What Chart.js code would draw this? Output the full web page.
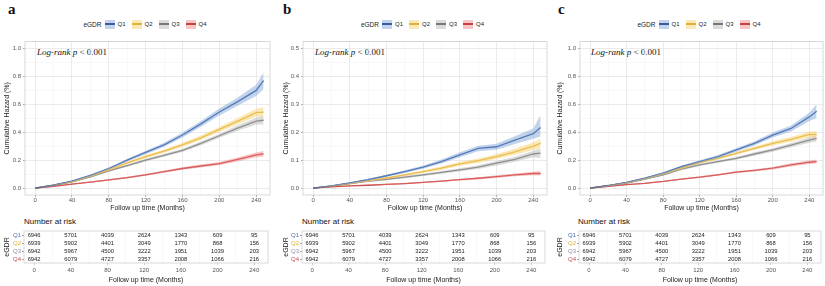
<!DOCTYPE html>
<html><head><meta charset="utf-8">
<script src="https://cdn.jsdelivr.net/npm/chart.js@4.4.1/dist/chart.umd.min.js"></script>
<style>
body{margin:0;background:#fff;width:825px;height:286px;overflow:hidden;position:relative;font-family:"Liberation Sans",Arial,sans-serif;}
canvas{position:absolute;}
.lab{position:absolute;font-family:"Liberation Serif","Times New Roman",serif;font-weight:bold;font-size:15px;line-height:15px;color:#111;}
.leg{position:absolute;top:19px;height:10px;display:flex;align-items:center;justify-content:center;font-size:6px;color:#222;white-space:nowrap;}
.leg .lt{font-size:6.5px;margin-right:2px;}
.leg .key{display:inline-block;width:10px;height:9px;margin-left:1px;}
.leg .key i{display:block;height:1.4px;margin-top:3.8px;}
.leg .ln{margin-left:3px;margin-right:5px;}
.lr{position:absolute;top:47px;font-family:"Liberation Serif","Times New Roman",serif;font-size:9px;line-height:11px;color:#111;white-space:nowrap;}
.nar{position:absolute;top:217px;font-size:8px;line-height:10px;color:#111;white-space:nowrap;}
</style></head>
<body>
<script>
// ---------- data ----------
const seriesNames = ['Q1','Q2','Q3','Q4'];
const T = [0,20,40,60,80,100,120,140,160,180,200,220,240,248];

// Panel a
const aQ1 = [0,0.02,0.05,0.09,0.14,0.20,0.255,0.31,0.38,0.46,0.545,0.62,0.70,0.77];
const aQ1lo = [0,0.018,0.046,0.084,0.132,0.19,0.243,0.296,0.362,0.44,0.52,0.59,0.66,0.71];
const aQ1hi = [0,0.022,0.054,0.096,0.148,0.21,0.267,0.324,0.398,0.48,0.57,0.65,0.74,0.83];
const aQ2 = [0,0.02,0.045,0.085,0.13,0.18,0.225,0.265,0.31,0.36,0.42,0.48,0.54,0.545];
const aQ2lo = [0,0.018,0.041,0.079,0.122,0.171,0.214,0.253,0.296,0.344,0.402,0.458,0.512,0.51];
const aQ2hi = [0,0.022,0.049,0.091,0.138,0.189,0.236,0.277,0.324,0.376,0.438,0.502,0.568,0.58];
const aQ3 = [0,0.02,0.045,0.08,0.123,0.16,0.20,0.235,0.27,0.32,0.375,0.43,0.48,0.486];
const aQ3lo = [0,0.018,0.041,0.075,0.116,0.152,0.19,0.224,0.258,0.306,0.36,0.41,0.456,0.455];
const aQ3hi = [0,0.022,0.049,0.085,0.13,0.168,0.21,0.246,0.282,0.334,0.39,0.45,0.504,0.517];
const aQ4 = [0,0.012,0.028,0.042,0.058,0.075,0.095,0.118,0.14,0.158,0.175,0.205,0.237,0.245];
const aQ4lo = [0,0.01,0.025,0.038,0.053,0.069,0.088,0.11,0.131,0.148,0.164,0.191,0.22,0.225];
const aQ4hi = [0,0.014,0.031,0.046,0.063,0.081,0.102,0.126,0.149,0.168,0.186,0.219,0.254,0.265];

// Panel b
const bQ1 = [0,0.008,0.018,0.03,0.044,0.059,0.075,0.095,0.119,0.142,0.148,0.172,0.195,0.217];
const bQ1lo = [0,0.007,0.016,0.027,0.04,0.054,0.069,0.088,0.11,0.132,0.137,0.158,0.177,0.185];
const bQ1hi = [0,0.009,0.02,0.033,0.048,0.064,0.081,0.102,0.128,0.152,0.159,0.186,0.213,0.262];
const bQ2 = [0,0.007,0.016,0.026,0.036,0.047,0.059,0.071,0.087,0.098,0.113,0.13,0.15,0.16];
const bQ2lo = [0,0.006,0.014,0.023,0.033,0.043,0.054,0.065,0.08,0.09,0.104,0.119,0.136,0.143];
const bQ2hi = [0,0.008,0.018,0.029,0.039,0.051,0.064,0.077,0.094,0.106,0.122,0.141,0.164,0.177];
const bQ3 = [0,0.007,0.016,0.025,0.031,0.039,0.047,0.056,0.065,0.075,0.089,0.103,0.122,0.125];
const bQ3lo = [0,0.006,0.014,0.022,0.028,0.035,0.043,0.051,0.059,0.068,0.081,0.094,0.11,0.108];
const bQ3hi = [0,0.008,0.018,0.028,0.034,0.043,0.051,0.061,0.071,0.082,0.097,0.112,0.134,0.142];
const bQ4 = [0,0.004,0.008,0.01,0.013,0.016,0.02,0.025,0.03,0.035,0.041,0.047,0.052,0.052];
const bQ4lo = [0,0.003,0.007,0.009,0.011,0.014,0.018,0.022,0.027,0.031,0.036,0.042,0.046,0.045];
const bQ4hi = [0,0.005,0.009,0.011,0.015,0.018,0.022,0.028,0.033,0.039,0.046,0.052,0.058,0.06];

// Panel c
const cQ1 = [0,0.018,0.04,0.071,0.107,0.154,0.19,0.225,0.273,0.32,0.38,0.427,0.51,0.55];
const cQ1lo = [0,0.016,0.037,0.067,0.101,0.146,0.181,0.214,0.26,0.305,0.362,0.405,0.48,0.5];
const cQ1hi = [0,0.02,0.043,0.075,0.113,0.162,0.199,0.236,0.286,0.335,0.398,0.449,0.54,0.6];
const cQ2 = [0,0.017,0.038,0.068,0.102,0.142,0.183,0.213,0.249,0.285,0.32,0.349,0.384,0.384];
const cQ2lo = [0,0.015,0.035,0.064,0.096,0.135,0.175,0.204,0.238,0.272,0.305,0.332,0.362,0.36];
const cQ2hi = [0,0.019,0.041,0.072,0.108,0.149,0.191,0.222,0.26,0.298,0.335,0.366,0.406,0.408];
const cQ3 = [0,0.017,0.036,0.064,0.095,0.135,0.166,0.19,0.213,0.244,0.273,0.308,0.344,0.356];
const cQ3lo = [0,0.015,0.033,0.06,0.09,0.128,0.158,0.181,0.203,0.232,0.26,0.293,0.325,0.333];
const cQ3hi = [0,0.019,0.039,0.068,0.1,0.142,0.174,0.199,0.223,0.256,0.286,0.323,0.363,0.379];
const cQ4 = [0,0.012,0.024,0.034,0.047,0.064,0.078,0.095,0.114,0.126,0.142,0.166,0.185,0.19];
const cQ4lo = [0,0.01,0.021,0.031,0.043,0.059,0.072,0.089,0.106,0.118,0.133,0.155,0.172,0.175];
const cQ4hi = [0,0.014,0.027,0.037,0.051,0.069,0.084,0.101,0.122,0.134,0.151,0.177,0.198,0.205];

// Number at risk
const riskTimes = [0,40,80,120,160,200,240];
const riskQ1 = [6946,5701,4039,2624,1343,609,95];
const riskQ2 = [6939,5902,4401,3049,1770,868,156];
const riskQ3 = [6942,5967,4500,3222,1951,1039,203];
const riskQ4 = [6942,6079,4727,3357,2008,1066,216];

// tick labels
const xTicks = [0,20,40,60,80,100,120,140,160,180,200,220,240];
const yTicksAC = [0,0.1,0.2,0.3,0.4,0.5,0.6,0.7,0.8,0.9,1.0];
const yTicksB = [0,0.05,0.1,0.15,0.2,0.25,0.3,0.35,0.4,0.45,0.5];

// ---------- styles ----------
const lineCol = ['#3A5BA0','#E2B136','#777777','#C8413F'];
const bandCol = ['rgba(120,160,212,0.45)','rgba(246,204,100,0.45)','rgba(175,175,175,0.45)','rgba(236,128,128,0.45)'];
const tabCol = ['#4F6FB0','#E2B136','#8C8CA6','#C0504D'];

Chart.defaults.font.family = '"Liberation Sans", Arial, sans-serif';
Chart.defaults.animation = false;

const panels = [
  {x:0, w:278, axisW:25, padR:8, ymin:-0.05, ymax:1.05, yt:yTicksAC, major:0.2, letter:'a', letterX:8, lrX:37, narX:24,
   s:[[aQ1,aQ1lo,aQ1hi],[aQ2,aQ2lo,aQ2hi],[aQ3,aQ3lo,aQ3hi],[aQ4,aQ4lo,aQ4hi]], titlePad:3},
  {x:280, w:275, axisW:23, padR:8, ymin:-0.025, ymax:0.525, yt:yTicksB, major:0.1, letter:'b', letterX:283, lrX:315, narX:302,
   s:[[bQ1,bQ1lo,bQ1hi],[bQ2,bQ2lo,bQ2hi],[bQ3,bQ3lo,bQ3hi],[bQ4,bQ4lo,bQ4hi]], titlePad:1.5},
  {x:555, w:270, axisW:25, padR:2, ymin:-0.05, ymax:1.05, yt:yTicksAC, major:0.2, letter:'c', letterX:558, lrX:591, narX:578,
   s:[[cQ1,cQ1lo,cQ1hi],[cQ2,cQ2lo,cQ2hi],[cQ3,cQ3lo,cQ3hi],[cQ4,cQ4lo,cQ4hi]], titlePad:1}
];

const borderPlugin = {
  id:'panelBorder',
  afterDraw(chart){
    const a = chart.chartArea, c = chart.ctx;
    c.save(); c.strokeStyle='#cfcfcf'; c.lineWidth=0.8;
    c.strokeRect(a.left, a.top, a.right-a.left, a.bottom-a.top);
    c.restore();
  }
};
const riskText = {
  id:'riskText',
  afterDatasetsDraw(chart){
    const c = chart.ctx; c.save();
    c.font = '5.8px "Liberation Sans", Arial, sans-serif';
    c.fillStyle = '#222'; c.textAlign='center'; c.textBaseline='middle';
    chart.data.datasets.forEach((ds,di)=>{
      chart.getDatasetMeta(di).data.forEach((pt,i)=>{ c.fillText(String(ds.counts[i]), pt.x, pt.y); });
    });
    c.restore();
  }
};

function isMajor(v, step){ const r = v/step; return Math.abs(r-Math.round(r))<1e-6; }
const TICK_FONT = {size:6};
const TITLE_FONT = {size:7};

function mkCanvas(left, top, w, h){
  const cv = document.createElement('canvas');
  cv.width = w; cv.height = h; cv.style.left = left+'px'; cv.style.top = top+'px';
  cv.style.width = w+'px'; cv.style.height = h+'px';
  document.body.appendChild(cv); return cv;
}
function addDiv(cls, left, top, html){
  const d = document.createElement('div'); d.className = cls; d.style.left = left+'px';
  if (top!==null) d.style.top = top+'px';
  d.innerHTML = html; document.body.appendChild(d); return d;
}

panels.forEach(p=>{
  // panel letter
  addDiv('lab', p.letterX, 2, p.letter);
  // legend
  const plotL = p.x + p.axisW, plotR = p.x + p.w - p.padR;
  const lg = addDiv('leg', plotL, null,
    '<span class="lt">eGDR</span>' + seriesNames.map((n,i)=>
      `<span class="key" style="background:${bandCol[i]}"><i style="background:${lineCol[i]}"></i></span><span class="ln">${n}</span>`).join(''));
  lg.style.width = (plotR-plotL)+'px';
  // log-rank
  addDiv('lr', p.lrX, null, '<i>Log-rank p</i> &lt; 0.001');
  // number at risk
  addDiv('nar', p.narX, null, 'Number at risk');

  // ---- KM plot ----
  const datasets = [];
  p.s.forEach((trip,i)=>{
    datasets.push({label:seriesNames[i]+' lower', data:T.map((t,k)=>({x:t,y:trip[1][k]})), borderWidth:0, pointRadius:0, fill:false, borderColor:'rgba(0,0,0,0)'});
    datasets.push({label:seriesNames[i]+' upper', data:T.map((t,k)=>({x:t,y:trip[2][k]})), borderWidth:0, pointRadius:0, fill:'-1', backgroundColor:bandCol[i], borderColor:'rgba(0,0,0,0)'});
  });
  p.s.forEach((trip,i)=>{
    datasets.push({label:seriesNames[i], data:T.map((t,k)=>({x:t,y:trip[0][k]})), borderWidth:1.3, pointRadius:0, fill:false, borderColor:lineCol[i], tension:0});
  });
  const cv = mkCanvas(p.x, 36, p.w, 176);
  new Chart(cv, {
    type:'line',
    data:{datasets},
    plugins:[borderPlugin],
    options:{
      responsive:false, devicePixelRatio:1,
      layout:{padding:{top:4,right:p.padR,bottom:0,left:0}},
      plugins:{legend:{display:false}, tooltip:{enabled:false}},
      scales:{
        x:{type:'linear', min:-11, max:255,
          afterBuildTicks(s){ s.ticks = xTicks.map(v=>({value:v})); },
          afterFit(s){ s.height = 17; },
          border:{display:false},
          grid:{color:c=>isMajor(c.tick.value,40)?'#e6e6e6':'#f1f1f1', lineWidth:c=>isMajor(c.tick.value,40)?0.8:0.5,
                tickColor:c=>isMajor(c.tick.value,40)?'#999':'rgba(0,0,0,0)', tickLength:2},
          ticks:{autoSkip:false, maxRotation:0, padding:0, font:TICK_FONT, color:'#555',
                 callback:v=>isMajor(v,40)?String(v):''},
          title:{display:true, text:'Follow up time (Months)', font:TITLE_FONT, color:'#222', padding:{top:0,bottom:0}}
        },
        y:{type:'linear', min:p.ymin, max:p.ymax,
          afterBuildTicks(s){ s.ticks = p.yt.map(v=>({value:v})); },
          afterFit(s){ s.width = p.axisW; },
          border:{display:false},
          grid:{color:c=>isMajor(c.tick.value,p.major)?'#e6e6e6':'#f1f1f1', lineWidth:c=>isMajor(c.tick.value,p.major)?0.8:0.5,
                tickColor:c=>isMajor(c.tick.value,p.major)?'#999':'rgba(0,0,0,0)', tickLength:2},
          ticks:{autoSkip:false, padding:2, font:TICK_FONT, color:'#555',
                 callback:v=>isMajor(v,p.major)?v.toFixed(1):''},
          title:{display:true, text:'Cumulative Hazard (%)', font:TITLE_FONT, color:'#222', padding:{top:p.titlePad,bottom:0}}
        }
      }
    }
  });

  // ---- risk table ----
  const risks = [riskQ1,riskQ2,riskQ3,riskQ4];
  const tds = risks.map((r,i)=>({label:seriesNames[i], counts:r, data:riskTimes.map(t=>({x:t,y:i+1})), pointRadius:0, showLine:false}));
  const tv = mkCanvas(p.x, 216, p.w, 70);
  new Chart(tv, {
    type:'scatter',
    data:{datasets:tds},
    plugins:[borderPlugin, riskText],
    options:{
      responsive:false, devicePixelRatio:1,
      layout:{padding:{top:15,right:p.padR+2,bottom:2,left:0}},
      plugins:{legend:{display:false}, tooltip:{enabled:false}},
      scales:{
        x:{type:'linear', min:-11, max:255,
          afterBuildTicks(s){ s.ticks = xTicks.map(v=>({value:v})); },
          afterFit(s){ s.height = 21; },
          border:{display:false},
          grid:{color:'#f1f1f1', lineWidth:0.5, tickColor:c=>isMajor(c.tick.value,40)?'#999':'rgba(0,0,0,0)', tickLength:2},
          ticks:{autoSkip:false, maxRotation:0, padding:1.5, font:TICK_FONT, color:'#555',
                 callback:v=>isMajor(v,40)?String(v):''},
          title:{display:true, text:'Follow up time (Months)', font:TITLE_FONT, color:'#222', padding:{top:0,bottom:0}}
        },
        y:{type:'linear', min:0.5, max:4.5, reverse:true,
          afterBuildTicks(s){ s.ticks = [1,2,3,4].map(v=>({value:v})); },
          afterFit(s){ s.width = p.axisW - 1; },
          border:{display:false},
          grid:{color:'rgba(0,0,0,0)', tickColor:'#999', tickLength:2},
          ticks:{autoSkip:false, padding:1, font:TICK_FONT, color:c=>tabCol[(c.tick.value|0)-1],
                 callback:v=>seriesNames[v-1]},
          title:{display:true, text:'eGDR', font:TITLE_FONT, color:'#222', padding:{top:p.titlePad,bottom:0}}
        }
      }
    }
  });
});
</script>
</body></html>
